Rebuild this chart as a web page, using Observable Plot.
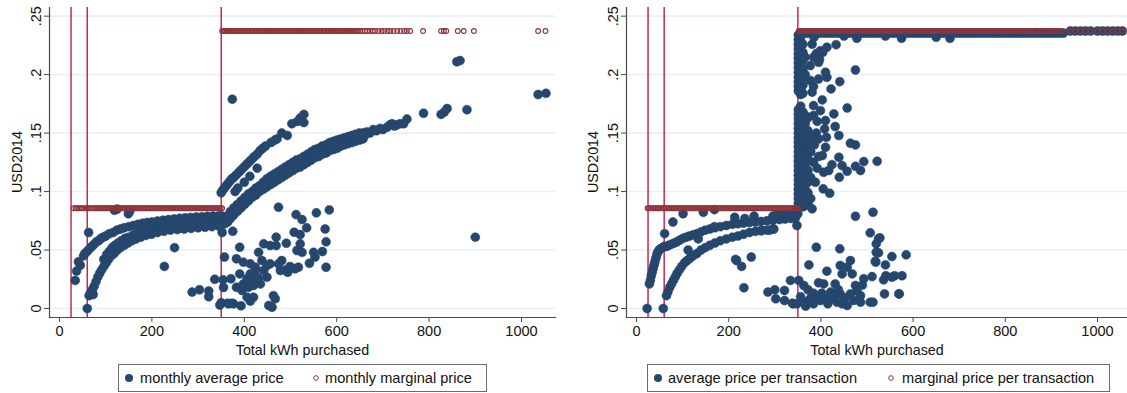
<!DOCTYPE html>
<html><head><meta charset="utf-8">
<script src="https://cdn.jsdelivr.net/npm/d3@7"></script>
<script src="https://cdn.jsdelivr.net/npm/@observablehq/plot@0.6"></script>
<style>
body{margin:0;background:#fff;font-family:"Liberation Sans",Arial,Helvetica,sans-serif;}
#wrap{position:relative;width:1127px;height:393px;overflow:hidden;background:#fff;}
.panel{position:absolute;top:0;}
.legend{position:absolute;top:364px;height:28px;box-sizing:border-box;border:1px solid #6b6b6b;background:#fff;font-size:14.6px;color:#111;}
.legend svg{position:absolute;top:0;left:0;}
.legend span{position:absolute;top:5px;white-space:nowrap;}
.ytitle{position:absolute;font-size:14.3px;color:#111;white-space:nowrap;transform:translate(-50%,-50%) rotate(-90deg);}
</style></head>
<body><div id="wrap"></div>
<script>
// ---------- shared ----------
const yTicks = [0, 0.05, 0.1, 0.15, 0.2, 0.25];
const yTickLabels = ["0", ".05", ".1", ".15", ".2", ".25"];
const xTicks = [0, 200, 400, 600, 800, 1000];
const xTickLabels = ["0", "200", "400", "600", "800", "1000"];
const kinks = [25, 60, 350];
const tierPrices = [0.0857, 0.2373];
const yTitle = "USD2014";
const xTitle = "Total kWh purchased";
const legendLeft = ["monthly average price", "monthly marginal price"];
const legendRight = ["average price per transaction", "marginal price per transaction"];

// ---------- left panel: monthly ----------
const leftAvgUpper = [[55,.047],[60,.049],[65,.051],[70,.053],[75,.055],[80,.057],[85,.058],[90,.060],[95,.061],[100,.062],[108,.064],[116,.065],[124,.067],[132,.068],[140,.069],[150,.070],[160,.071],[170,.072],[180,.073],[190,.0735],[200,.074],[212,.0748],[224,.0755],[236,.076],[248,.0766],[260,.0771],[272,.0775],[284,.0779],[296,.0782],[308,.0785],[320,.0788],[332,.079],[344,.0792],[350,.0794]];
const leftAvgMiddle = [[96,.042],[102,.046],[108,.049],[114,.052],[120,.054],[127,.056],[134,.058],[142,.060],[150,.061],[160,.063],[170,.0645],[180,.066],[190,.067],[200,.068],[212,.069],[224,.070],[236,.0705],[248,.071],[260,.0718],[272,.0722],[284,.0727],[296,.073],[308,.0735],[320,.0738],[332,.074],[344,.0745]];
const leftAvgLower = [[64,.011],[67,.013],[71,.016],[75,.019],[79,.023],[83,.027],[87,.030],[91,.033],[96,.036],[101,.039],[106,.042],[112,.045],[118,.047],[125,.050],[132,.052],[140,.054],[148,.056],[157,.058],[166,.0595],[176,.061],[187,.0625],[199,.0635],[212,.065],[226,.066],[240,.067],[255,.0675],[270,.068],[285,.0685],[300,.069],[315,.0695],[330,.07],[345,.0705]];
const leftAvgScatterLow = [[34,.024],[37,.032],[41,.040],[45,.037],[52,.045],[60,0],[63,.065],[69,.012],[73,.012],[119,.084],[125,.085],[149,.081],[152,.083],[197,.067],[227,.036],[249,.052],[262,.069],[287,.014],[303,.016],[323,.015],[323,.010],[336,.025],[347,.003],[350,.005]];
const leftAvgBandTop = [[355,.076],[362,.079],[370,.083],[377,.086],[385,.089],[393,.092],[401,.095],[409,.098],[417,.100],[425,.103],[433,.105],[441,.108],[449,.111],[457,.113],[465,.115],[473,.117],[481,.119],[489,.121],[497,.123],[505,.125],[513,.127],[521,.128],[529,.130],[537,.132],[545,.134],[553,.136],[561,.137],[569,.139],[577,.140],[585,.142],[593,.143],[601,.144],[609,.145],[617,.146],[625,.147],[633,.148],[641,.149],[649,.150],[657,.150],[665,.151]];
const leftAvgBandMid = [[356,.074],[366,.078],[374,.082],[381,.085],[389,.088],[397,.091],[405,.094],[413,.097],[421,.099],[429,.101],[437,.104],[445,.106],[453,.108],[461,.111],[469,.113],[477,.115],[485,.116],[493,.118],[501,.120],[509,.122],[517,.124],[525,.126],[533,.128],[541,.130],[549,.132],[557,.133],[565,.135],[573,.136],[581,.138],[589,.139],[597,.140],[605,.141],[613,.143],[621,.144],[629,.145],[637,.146],[645,.147],[653,.148],[661,.148]];
const leftAvgBandBottom = [[352,.072],[358,.0725],[364,.074],[370,.077],[377,.080],[385,.083],[393,.086],[401,.089],[409,.092],[417,.095],[425,.097],[433,.100],[441,.102],[449,.104],[457,.106],[465,.108],[473,.110],[481,.112],[489,.114],[497,.116],[505,.118],[513,.120],[521,.121],[529,.123],[537,.125],[545,.127],[553,.129],[561,.130],[569,.132],[577,.133],[585,.135],[593,.136],[601,.137],[609,.139],[617,.140],[625,.141],[633,.142],[641,.143],[649,.144],[657,.145]];
const leftAvgUpperBranch = [[350,.099],[353,.101],[357,.103],[361,.105],[365,.107],[369,.109],[373,.111],[377,.112],[382,.114],[387,.116],[392,.118],[397,.120],[402,.122],[407,.124],[412,.126],[417,.128],[422,.130],[428,.132],[434,.135],[440,.137],[446,.139],[458,.142],[466,.144],[471,.145],[481,.150],[493,.148],[503,.158],[515,.160],[521,.163],[529,.166],[529,.159],[374,.179],[380,.100],[386,.103],[400,.108],[412,.113],[428,.120]];
const leftAvgTail = [[672,.150],[679,.153],[686,.152],[694,.154],[700,.153],[709,.155],[715,.157],[720,.158],[725,.156],[730,.157],[737,.158],[745,.158],[752,.162],[788,.167],[826,.166],[833,.168],[839,.171],[882,.170],[860,.211],[867,.212],[900,.061],[1036,.183],[1053,.184]];
const leftAvgScatterHigh = [[474,.0866],[352,.065],[375,.066],[357,.044],[383,.0425],[390,.0524],[354,.0245],[355,.018],[371,.0254],[364,.0045],[373,.0045],[393,.0023],[383,.0182],[390,.0296],[398,.0396],[413,.0382],[424,.0353],[442,.0553],[456,.0538],[469,.0538],[469,.061],[491,.0558],[512,.0803],[525,.076],[535,.069],[508,.0652],[521,.0632],[521,.0553],[556,.0818],[584,.0843],[575,.068],[577,.057],[569,.0487],[550,.048],[553,.0439],[541,.0387],[577,.0353],[514,.0496],[525,.048],[510,.034],[517,.0353],[494,.031],[489,.033],[481,.041],[474,.0382],[456,.0382],[449,.0367],[438,.041],[431,.048],[424,.0325],[413,.0296],[406,.0254],[417,.0254],[398,.021],[395,.0154],[409,.0182],[420,.0197],[435,.021],[449,.0268],[442,.0325],[431,.026],[406,.0097],[420,.0097],[413,.0063],[453,.0026],[460,.0011],[463,.011],[467,.0083],[478,.0325],[499,.0359],[366,.004],[377,.004]];
const leftMargLowX = [31,35,38,42,46,49,53,57,61,64,68,71,75,79,82,85,88,91,94,97,100,103,106,109,112,115,118,121,124,127,130,133,136,139,142,145,148,151,154,157,160,163,166,169,172,175,178,181,184,187,190,193,196,199,202,205,208,211,214,217,220,223,226,229,232,235,238,241,244,247,250,253,256,259,262,265,268,271,274,277,280,283,286,289,292,295,298,301,304,307,310,313,316,319,322,325,328,331,334,337,340,343,346,349,352];
const leftMargHighX = [352,355,358,361,364,367,370,373,376,379,382,385,388,391,394,397,400,403,406,409,412,415,418,421,424,427,430,433,436,439,442,445,448,451,454,457,460,463,466,469,472,475,478,481,484,487,490,493,496,499,502,505,508,511,514,517,520,523,526,529,532,535,538,541,544,547,550,553,556,559,562,565,568,571,574,577,580,583,586,589,592,595,598,601,604,607,610,613,616,619,622,625,628,631,634,637,640,643,646,650,655,661,666,672,678,683,690,697,703,710,716,723,731,738,746,752,759,787,826,832,837,862,875,897,1036,1052];

// ---------- right panel: per transaction ----------
const rightAvgUpper = [[28,.021],[30,.024],[32,.028],[34,.031],[36,.034],[38,.037],[40,.040],[42,.043],[44,.046],[46,.048],[49,.050],[52,.051],[56,.052],[60,.053],[65,.053],[70,.054],[76,.055],[82,.056],[88,.057],[94,.0585],[101,.060],[108,.061],[115,.062],[123,.063],[131,.064],[140,.0655],[149,.067],[159,.068],[170,.069],[182,.070],[195,.071],[208,.072],[220,.0725],[232,.073],[245,.0735],[258,.074],[270,.0745],[283,.075],[296,.0755],[310,.076],[322,.0765],[335,.077],[345,.0775]];
const rightAvgLower = [[65,.011],[68,.014],[72,.018],[76,.021],[80,.024],[84,.027],[88,.030],[93,.033],[98,.036],[104,.039],[110,.041],[116,.043],[123,.045],[131,.047],[140,.050],[149,.052],[159,.054],[170,.056],[182,.058],[195,.0595],[208,.061],[220,.062],[232,.0635],[245,.065],[258,.066],[270,.0665],[283,.067],[296,.068]];
const rightAvgNearTier = [[79,.074],[101,.081],[145,.0823],[169,.0845],[213,.078],[235,.077],[255,.079],[271,.0667],[289,.067],[296,.079],[305,.080],[315,.080],[317,.0777],[325,.0805],[330,.0785],[335,.081],[345,.081],[350,.081]];
const rightAvgScatterLow = [[23,0],[58,0],[61,.064],[112,.050],[134,.0595],[169,.070],[217,.041],[228,.036],[249,.044],[233,.0177],[215,.042],[285,.014],[300,.016],[321,.0154],[302,.0083],[321,.0068],[334,.024],[340,.004],[272,.067],[298,.068]];
const wallColumnsX = [351, 356, 361, 366, 372, 378];
const wallColumnsY = [
  [.086,.090,.094,.098,.102,.106,.110,.114,.118,.122,.126,.130,.134,.138,.142,.146,.150,.154,.158,.162,.166,.170,.186,.190,.194,.198,.202,.206,.210,.214,.218,.222,.226,.230,.234],
  [.088,.092,.097,.101,.105,.109,.113,.117,.121,.125,.129,.133,.137,.141,.145,.149,.153,.157,.161,.165,.169,.173,.183,.188,.192,.196,.200,.204,.208,.212,.216,.220,.224,.228,.232],
  [.087,.093,.099,.104,.110,.115,.121,.127,.132,.138,.144,.150,.156,.162,.168,.184,.191,.198,.205,.212,.219,.226],
  [.088,.095,.102,.109,.116,.123,.130,.137,.144,.151,.158,.165,.200,.215],
  [.090,.099,.108,.118,.128,.140,.152,.163],
  [.094,.112,.134,.146]
];
const rightAvgScatterUpper = [[381,.226],[399,.2205],[413,.2234],[433,.2256],[384,.2148],[395,.2105],[377,.2077],[475,.204],[395,.1963],[413,.1977],[410,.202],[441,.194],[422,.1878],[381,.185],[403,.1784],[384,.1735],[457,.1715],[399,.1692],[428,.1664],[410,.1607],[431,.1556],[408,.1536],[439,.1479],[412,.1464],[464,.1413],[475,.1399],[410,.1379],[403,.1308],[439,.1293],[522,.1259],[493,.1256],[475,.1216],[486,.118],[446,.1222],[424,.123],[457,.1174],[406,.1165],[417,.118],[440,.1122],[405,.1023],[419,.0986],[390,.218],[404,.219],[397,.213],[377,.195],[384,.190],[384,.125],[388,.108],[392,.120],[395,.130],[386,.140],[390,.150],[392,.160],[384,.165],[395,.145]];
const rightAvgScatterHigh = [[348,.071],[507,.0647],[525,.0596],[520,.0553],[390,.0524],[441,.051],[520,.0481],[525,.0476],[554,.0444],[585,.0459],[519,.0396],[540,.0373],[374,.0373],[442,.0368],[464,.041],[457,.0353],[413,.0319],[446,.0296],[468,.0296],[406,.021],[352,.024],[363,.0197],[493,.0254],[511,.0273],[536,.0245],[554,.0268],[576,.028],[475,.0197],[431,.021],[384,.0131],[421,.014],[442,.0125],[464,.0125],[486,.011],[507,.0054],[538,.0125],[569,.0125],[338,.0045],[348,.004],[363,.0054],[374,.0068],[384,.004],[399,.0068],[410,.0083],[428,.0083],[446,.004],[457,.0026],[435,.0054],[471,.0068],[486,.0054],[528,.0604],[518,.0404],[541,.028],[560,.028],[570,.0125],[513,.0054],[475,.0789],[513,.0823],[381,.0852],[392,.010],[402,.013],[415,.004],[425,.012],[438,.016],[452,.009],[478,.015],[490,.020],[395,.022],[372,.016],[356,.010],[367,.002],[378,.009]];
const rightAvgTopRowX = [356,362,368,374,380,386,392,398,404,410,416,422,428,434,440,446,452,458,464,470,476,482,488,494,500,506,512,518,524,530,536,542,548,554,560,566,572,578,584,590,596,602,608,614,620,626,632,638,644,650,656,662,668,674,680,686,692,698,704,710,716,722,728,734,740,746,752,758,764,770,776,782,788,794,800,806,812,818,824,830,836,842,848,854,860,866,872,878,884,890,896,902,908,914,920,926];
const rightAvgTopRowY = 0.2355;
const rightAvgTopDips = [[385,.232],[450,.233],[478,.231],[540,.233],[575,.231],[650,.232],[680,.231]];
const rightAvgTopTailX = [941,952,963,974,985,1000,1011,1022,1033,1044,1054];
const rightMargLowX = [24,27,30,33,36,39,42,45,48,51,54,57,60,63,66,69,72,75,78,81,84,87,90,93,96,99,102,105,108,111,114,117,120,123,126,129,132,135,138,141,144,147,150,153,156,159,162,165,168,171,174,177,180,183,186,189,192,195,198,201,204,207,210,213,216,219,222,225,228,231,234,237,240,243,246,249,252,255,258,261,264,267,270,273,276,279,282,285,288,291,294,297,300,303,306,309,312,315,318,321,324,327,330,333,336,339,342,345,348,351];
const rightMargHighX = [352,356,360,364,368,372,376,380,384,388,392,396,400,404,408,412,416,420,424,428,432,436,440,444,448,452,456,460,464,468,472,476,480,484,488,492,496,500,504,508,512,516,520,524,528,532,536,540,544,548,552,556,560,564,568,572,576,580,584,588,592,596,600,604,608,612,616,620,624,628,632,636,640,644,648,652,656,660,664,668,672,676,680,684,688,692,696,700,704,708,712,716,720,724,728,732,736,740,744,748,752,756,760,764,768,772,776,780,784,788,792,796,800,804,808,812,816,820,824,828,832,836,840,844,848,853,858,863,868,873,878,884,889,894,899,905,911,917,923,941,952,963,974,985,1000,1011,1022,1033,1044,1054];

// ---------- styling ----------
const NAVY = "#26476d", MAROON = "#8e343b", KINK = "#c8173f", GRID = "#e9f1f2", AXIS = "#4a4a4a";

function toPts(pairs){ return pairs.map(([x,y]) => ({x, y})); }

const leftAvg = toPts([].concat(leftAvgUpper, leftAvgMiddle, leftAvgLower, leftAvgScatterLow,
  leftAvgBandTop, leftAvgBandMid, leftAvgBandBottom, leftAvgUpperBranch, leftAvgTail, leftAvgScatterHigh));
const leftMarg = leftMargLowX.map(x => ({x, y: tierPrices[0]})).concat(leftMargHighX.map(x => ({x, y: tierPrices[1]})));

const wallPts = [];
wallColumnsX.forEach((cx, i) => wallColumnsY[i].forEach(y => wallPts.push({x: cx, y})));
const rightAvg = toPts([].concat(rightAvgUpper, rightAvgLower, rightAvgNearTier, rightAvgScatterLow,
  rightAvgScatterUpper, rightAvgScatterHigh, rightAvgTopDips))
  .concat(wallPts)
  .concat(rightAvgTopRowX.map(x => ({x, y: rightAvgTopRowY})))
  .concat(rightAvgTopTailX.map(x => ({x, y: tierPrices[1]})));
const rightMarg = rightMargLowX.map(x => ({x, y: tierPrices[0]})).concat(rightMargHighX.map(x => ({x, y: tierPrices[1]})));

function panel({width, marginLeft, marginRight, xDomain, avg, marg}) {
  return Plot.plot({
    width, height: 360, marginLeft, marginRight, marginTop: 7, marginBottom: 43,
    style: {fontFamily: "'Liberation Sans', Arial, Helvetica, sans-serif", fontSize: "14.5px", color: "#111", background: "transparent", overflow: "visible"},
    x: {domain: xDomain},
    y: {domain: [-0.0077, 0.2574]},
    marks: [
      Plot.gridY(yTicks, {stroke: GRID, strokeOpacity: 1, strokeWidth: 1.6}),
      Plot.ruleX(kinks, {stroke: KINK, strokeWidth: 1.4}),
      Plot.dot(avg, {x: "x", y: "y", r: 4.5, fill: NAVY, stroke: NAVY, strokeWidth: 0.5}),
      Plot.dot(marg, {x: "x", y: "y", r: 2.4, fill: "none", stroke: MAROON, strokeWidth: 1.1}),
      Plot.frame({anchor: "left", stroke: AXIS, strokeWidth: 1.2}),
      Plot.frame({anchor: "bottom", stroke: AXIS, strokeWidth: 1.2}),
      Plot.axisX({ticks: xTicks, tickFormat: d => xTickLabels[xTicks.indexOf(d)], tickSize: 5, tickPadding: 3, stroke: AXIS, label: null}),
      Plot.axisY({ticks: yTicks, tickFormat: d => yTickLabels[yTicks.indexOf(d)], tickSize: 5, tickPadding: 4, tickRotate: -90, stroke: AXIS, label: null}),
      Plot.text([xTitle], {frameAnchor: "bottom", dy: 37, fill: "#111", fontSize: 14.3})
    ]
  });
}

const wrap = document.getElementById("wrap");
const left = panel({width: 560, marginLeft: 49, marginRight: 5, xDomain: [-21.65, 1073.6], avg: leftAvg, marg: leftMarg});
left.classList.add("panel"); left.style.left = "0px";
wrap.appendChild(left);
const right = panel({width: 567, marginLeft: 66, marginRight: 0, xDomain: [-21.7, 1065.1], avg: rightAvg, marg: rightMarg});
right.classList.add("panel"); right.style.left = "560px";
wrap.appendChild(right);

function yTitleDiv(cx, cy) {
  const t = document.createElement("div");
  t.className = "ytitle";
  t.style.left = cx + "px"; t.style.top = cy + "px";
  t.textContent = yTitle;
  wrap.appendChild(t);
}
yTitleDiv(17, 162);
yTitleDiv(593, 162);

function legend(left, width, labels, pos) {
  const d = document.createElement("div");
  d.className = "legend";
  d.style.left = left + "px"; d.style.width = width + "px";
  d.innerHTML =
    `<svg width="${width}" height="26"><circle cx="${pos[0]}" cy="13" r="4" fill="${NAVY}"/>` +
    `<circle cx="${pos[2]}" cy="13" r="2.3" fill="none" stroke="${MAROON}" stroke-width="1"/></svg>` +
    `<span style="left:${pos[1]}px">${labels[0]}</span><span style="left:${pos[3]}px">${labels[1]}</span>`;
  wrap.appendChild(d);
}
legend(118, 369, legendLeft, [10, 21, 197, 206]);
legend(647, 463, legendRight, [10, 20, 243, 254]);
</script></body></html>
